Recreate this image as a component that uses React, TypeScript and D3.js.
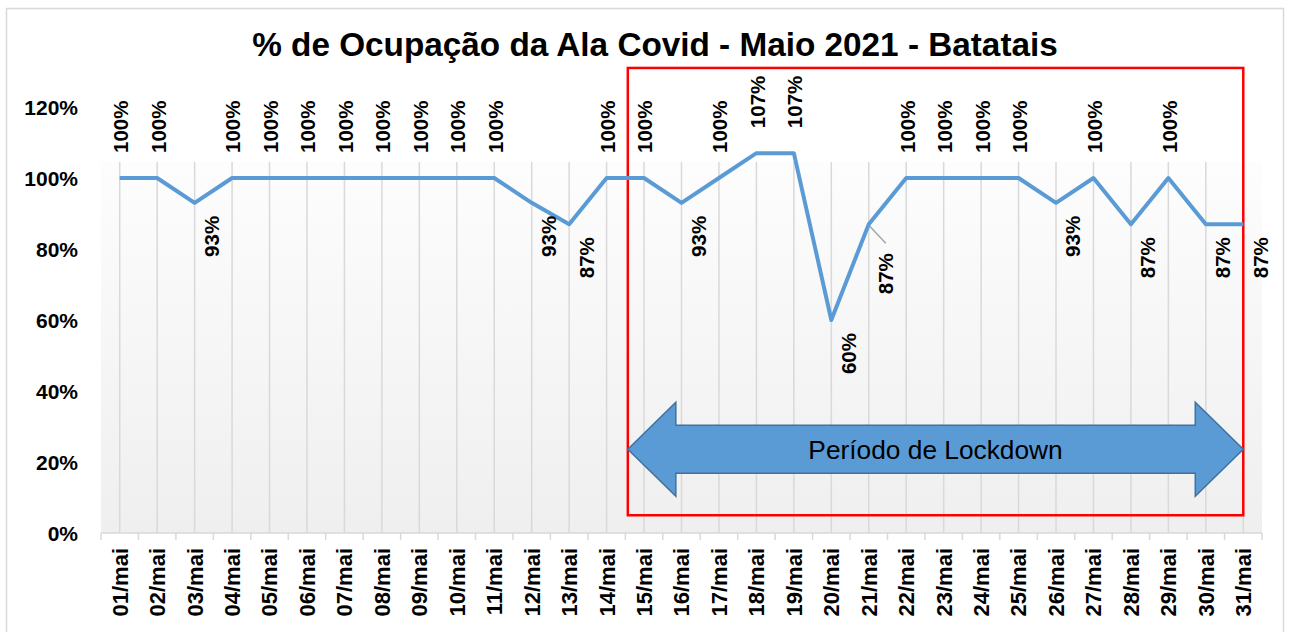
import React from "react";
import * as d3 from "d3";

const days = [
  "01/mai", "02/mai", "03/mai", "04/mai", "05/mai", "06/mai", "07/mai", "08/mai",
  "09/mai", "10/mai", "11/mai", "12/mai", "13/mai", "14/mai", "15/mai", "16/mai",
  "17/mai", "18/mai", "19/mai", "20/mai", "21/mai", "22/mai", "23/mai", "24/mai",
  "25/mai", "26/mai", "27/mai", "28/mai", "29/mai", "30/mai", "31/mai",
];
const occupancy = [
  100, 100, 93, 100, 100, 100, 100, 100, 100, 100, 100, 93, 87, 100, 100, 93,
  100, 107, 107, 60, 87, 100, 100, 100, 100, 93, 100, 87, 100, 87, 87,
];
const yTicks = [0, 20, 40, 60, 80, 100, 120];
const title = "% de Ocupação da Ala Covid - Maio 2021 - Batatais";
const lockdownLabel = "Período de Lockdown";
const lockdownStart = "15/mai";
const lockdownEnd = "31/mai";

const W = 1290;
const H = 632;
const FONT = "'Liberation Sans', Arial, sans-serif";

export default function App() {
  const x = d3.scaleBand<string>().domain(days).range([101, 1262]).paddingInner(0).paddingOuter(0);
  const y = d3.scaleLinear().domain([0, 120]).range([533, 107]);
  const bw = x.bandwidth();
  const cx = (d: string) => (x(d) as number) + bw / 2;
  const pts: [number, number][] = days.map((d, i) => [cx(d), y(occupancy[i])]);
  const line = d3.line<[number, number]>().x((p) => p[0]).y((p) => p[1]);

  const plotTop = 162;
  const plotLeft = 101;
  const plotRight = 1262;
  const plotBottom = y(0);

  // lockdown annotation
  const L = (x(lockdownStart) as number) + 2.5;
  const R = cx(lockdownEnd);
  const rTop = y(131);
  const rBot = y(5);
  const acy = y(23.6);
  const head = 48;
  const hh = 47;
  const sh = 24;
  const arrowPts: [number, number][] = [
    [L, acy], [L + head, acy - hh], [L + head, acy - sh], [R - head, acy - sh], [R - head, acy - hh],
    [R, acy], [R - head, acy + hh], [R - head, acy + sh], [L + head, acy + sh], [L + head, acy + hh],
  ];

  const boundaries = [...days.map((d) => x(d) as number), plotRight];

  return (
    <svg width={W} height={H} style={{ position: "absolute", left: 0, top: 0, background: "#fff" }}>
      <defs>
        <linearGradient id="bg" x1="0" y1="0" x2="0" y2="1">
          <stop offset="0" stopColor="#fdfdfd" />
          <stop offset="1" stopColor="#efefef" />
        </linearGradient>
      </defs>
      <rect x={6.5} y={8.5} width={1277} height={640} fill="#fff" stroke="#d9d9d9" strokeWidth={1.5} />
      <text x={655} y={56} textAnchor="middle" fontFamily={FONT} fontWeight="bold" fontSize={33.3} fill="#000">
        {title}
      </text>

      <rect x={plotLeft} y={plotTop} width={plotRight - plotLeft} height={plotBottom - plotTop} fill="url(#bg)" />
      {days.map((d) => (
        <line key={"g" + d} x1={cx(d)} x2={cx(d)} y1={plotTop} y2={plotBottom} stroke="#d9d9d9" strokeWidth={1.5} />
      ))}
      <line x1={plotLeft} x2={plotRight} y1={plotBottom} y2={plotBottom} stroke="#d9d9d9" strokeWidth={1.5} />
      {boundaries.map((b, i) => (
        <line key={"t" + i} x1={b} x2={b} y1={plotBottom} y2={plotBottom + 7} stroke="#d9d9d9" strokeWidth={1.5} />
      ))}

      {yTicks.map((t) => (
        <text key={"y" + t} x={78} y={y(t)} dy="0.36em" textAnchor="end" fontFamily={FONT} fontWeight="bold" fontSize={21} fill="#000">
          {t + "%"}
        </text>
      ))}
      {days.map((d) => (
        <text
          key={"x" + d}
          transform={`translate(${cx(d)},548) rotate(-90)`}
          dy="0.36em"
          textAnchor="end"
          fontFamily={FONT}
          fontWeight="bold"
          fontSize={22}
          fill="#000"
        >
          {d}
        </text>
      ))}

      <rect x={L} y={rTop} width={R - L} height={rBot - rTop} fill="none" stroke="#ff0000" strokeWidth={2.5} />

      <path d={line(pts) as string} fill="none" stroke="#5b9bd5" strokeWidth={4} strokeLinejoin="round" />

      {days.map((d, i) => {
        const v = occupancy[i];
        const px = cx(d);
        const py = y(v);
        if (v >= 100) {
          return (
            <text key={"l" + d} transform={`translate(${px + 1},${py - 25}) rotate(-90)`} dy="0.36em" textAnchor="start"
              fontFamily={FONT} fontWeight="bold" fontSize={20.5} fill="#000">
              {v + "%"}
            </text>
          );
        }
        const far = d === "21/mai";
        const off = far ? 29 : 13;
        return (
          <g key={"l" + d}>
            {far && <line x1={px + 1} y1={py + 2} x2={px + 17} y2={py + 19} stroke="#a6a6a6" strokeWidth={1.5} />}
            <text transform={`translate(${px + 17},${py + off}) rotate(-90)`} dy="0.36em" textAnchor="end"
              fontFamily={FONT} fontWeight="bold" fontSize={20.5} fill="#000">
              {v + "%"}
            </text>
          </g>
        );
      })}

      <polygon points={arrowPts.map((p) => p.join(",")).join(" ")} fill="#5b9bd5" stroke="#41719c" strokeWidth={1.5} />
      <text x={(L + R) / 2} y={acy} dy="0.36em" textAnchor="middle" fontFamily={FONT} fontSize={26.3} fill="#000">
        {lockdownLabel}
      </text>
    </svg>
  );
}
